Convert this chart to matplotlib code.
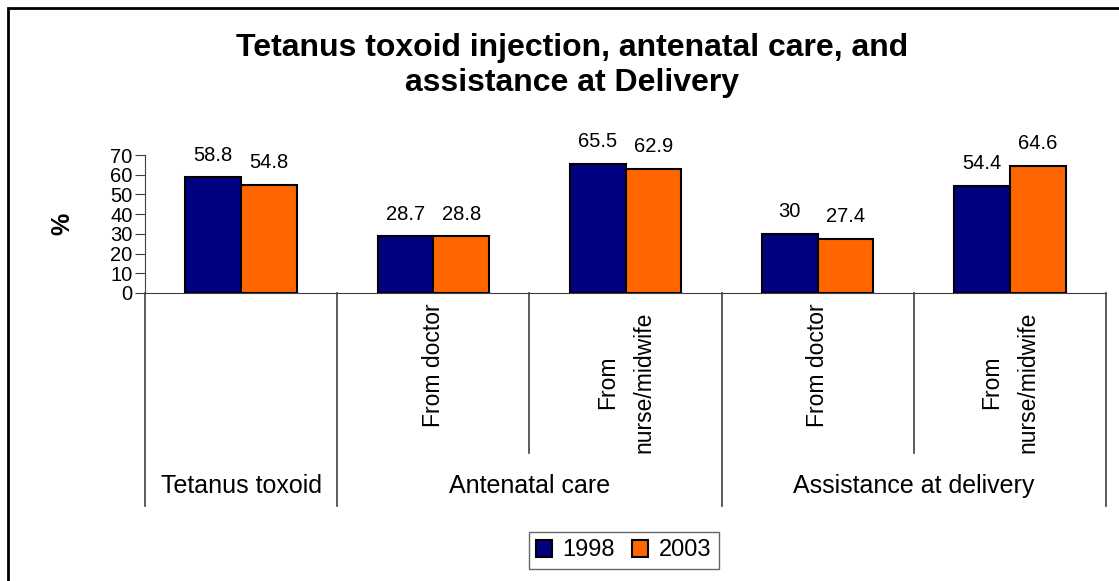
import numpy as np
import matplotlib.pyplot as plt
from matplotlib.patches import Rectangle

plt.rcParams['font.family'] = ['Liberation Sans', 'DejaVu Sans']

# Daten
sub_labels = ['', 'From doctor', 'From\nnurse/midwife', 'From doctor', 'From\nnurse/midwife']
groups = ['Tetanus toxoid', 'Antenatal care', 'Assistance at delivery']
group_spans = [(0, 0), (1, 2), (3, 4)]
years = ['1998', '2003']
v1998 = [58.8, 28.7, 65.5, 30, 54.4]
v2003 = [54.8, 28.8, 62.9, 27.4, 64.6]
colors = ['#000080', '#FF6600']

fig = plt.figure(figsize=(11.19, 5.81), dpi=100)
ax = fig.add_axes([145/1119, 288/581, 961/1119, 138/581])

x = np.arange(len(v1998))
w = 0.29
b1 = ax.bar(x - w/2, v1998, w, color=colors[0], edgecolor='black', lw=1.5, label=years[0])
b2 = ax.bar(x + w/2, v2003, w, color=colors[1], edgecolor='black', lw=1.5, label=years[1])
for bars in (b1, b2):
    ax.bar_label(bars, labels=[f'{v:g}' for v in bars.datavalues], padding=9, fontsize=14.5)

ax.set_xlim(-0.5, 4.5)
ax.set_ylim(0, 70)
ax.set_yticks(range(0, 71, 10))
ax.tick_params(axis='y', labelsize=14.5, length=7, color='#404040', pad=2)
ax.set_xticks([])
for s in ['top', 'right']:
    ax.spines[s].set_visible(False)
for s in ['left', 'bottom']:
    ax.spines[s].set_color('#404040')
ax.set_ylabel('%', fontsize=18, fontweight='bold', labelpad=26)

# Trennlinien unter der Achse
tr = ax.get_xaxis_transform()
for pos, low in [(-0.5, -1.54), (0.5, -1.54), (1.5, -1.16), (2.5, -1.54), (3.5, -1.16), (4.5, -1.54)]:
    ax.plot([pos, pos], [0, low], transform=tr, color='#404040', lw=1.2, clip_on=False)

# Unterkategorien
for i, lab in enumerate(sub_labels):
    if lab:
        yy = -0.65 if '\n' in lab else -0.52
        ax.text(i, yy, lab, transform=tr, rotation=90, ha='center', va='center',
                multialignment='center', fontsize=16.5, linespacing=1.75)

# Gruppen
for g, (a, b) in zip(groups, group_spans):
    ax.text((a + b) / 2, -1.40, g, transform=tr, ha='center', va='center', fontsize=18)

fig.text(0.511, 0.887, 'Tetanus toxoid injection, antenatal care, and\nassistance at Delivery',
         ha='center', va='center', fontsize=23, fontweight='bold', linespacing=1.2)

fig.legend(loc='center', bbox_to_anchor=(623.5/1119, 1 - 550.5/581), ncol=2, fontsize=17,
           frameon=True, fancybox=False, edgecolor='#404040', handlelength=0.7, handleheight=0.7,
           handletextpad=0.45, columnspacing=0.7, borderpad=0.3)

# Rahmen
fig.patches.append(Rectangle((8/1119, -0.1), 1.2, 1.1 - 8/581, transform=fig.transFigure,
                             fill=False, edgecolor='black', lw=2))

fig.savefig('out.png', dpi=100)
